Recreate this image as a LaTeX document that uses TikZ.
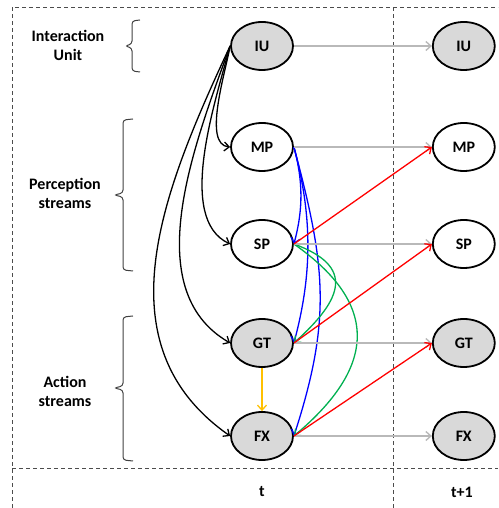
\documentclass[tikz,border=0pt]{standalone}
\usepackage{fontspec}
\setmainfont{Carlito}
\usetikzlibrary{shapes.geometric}
\usetikzlibrary{arrows.meta,positioning}
\definecolor{gold}{RGB}{255,192,0}
\definecolor{leaf}{RGB}{0,176,80}

\begin{document}
\begin{tikzpicture}[x=1pt,y=1pt,>={Straight Barb[length=5pt,width=9pt]},
    font=\fontsize{16}{19}\selectfont\bfseries,
    var/.style={draw, ellipse, line width=1.8pt, minimum width=62pt, minimum height=48pt, inner sep=0pt},
    obs/.style={var, fill=gray!30},
    frame/.style={gray!60!black, line width=0.9pt, dash pattern=on 4pt off 3pt},
    lag/.style={->, gray!55, line width=1.4pt},
    link/.style={->, line width=1.3pt},
    grp/.style={gray!50!black, line width=1pt, rounded corners=3pt}]
    \useasboundingbox (0,0) rectangle (498,508);
    % frame of the two slices
    \draw[frame] (12,0) -- (12,501) -- (498,501);
    \draw[frame] (12,40) -- (498,40);
    \draw[frame] (393,0) -- (393,501);

    % slice t
    \node[obs] at (262,462) (iu) {IU};
    \node[var] at (262,361) (mp) {MP};
    \node[var] at (262,264) (sp) {SP};
    \node[obs] at (262,165) (gt) {GT};
    \node[obs] at (262,72) (fx) {FX};
    % slice t+1
    \node[obs,right=138pt of iu] (iu1) {IU};
    \node[var,right=138pt of mp] (mp1) {MP};
    \node[var,right=138pt of sp] (sp1) {SP};
    \node[obs,right=138pt of gt] (gt1) {GT};
    \node[obs,right=138pt of fx] (fx1) {FX};

    \node[align=center] at (68,463) (iulab) {Interaction\\Unit};
    \node[align=center] at (65,315) (perlab) {Perception\\streams};
    \node[align=center] at (65,117) (actlab) {Action\\streams};
    \node at (262,16) (tlab) {t};
    \node at (462,16) (t1lab) {t+1};

    % brackets
    \draw[grp] (140,488) -- (132,487) -- (132,464) -- (125,462) -- (132,460) -- (132,437) -- (140,436);
    \draw[grp] (133,389) -- (123,388) -- (123,315) -- (114,313) -- (123,311) -- (123,238) -- (133,237);
    \draw[grp] (133,192) -- (123,191) -- (123,122) -- (114,120) -- (123,118) -- (123,48) -- (133,47);

    % IU to the streams
    \draw[link] (iu.west) to[out=-100, in=175, looseness=0.7] (mp.west);
    \draw[link] (iu.west) to[out=-105, in=155, looseness=0.77] (sp.west);
    \draw[link] (iu.west) to[out=-110, in=150, looseness=0.92] (gt.west);
    \draw[link] (iu.west) to[out=-115, in=145, looseness=1.05] (fx.west);

    % within slice
    \draw[link, blue] (mp.east) to[out=-75, in=75, looseness=0.95] (sp.east);
    \draw[link, blue] (mp.east) to[out=-75, in=75, looseness=0.94] (gt.east);
    \draw[link, blue] (mp.east) to[out=-75, in=72, looseness=1.09] (fx.east);
    \draw[link, leaf] (sp.east) to[out=-20, in=42, looseness=1.7] (gt.east);
    \draw[link, leaf] (sp.east) to[out=-35, in=40, looseness=1.42] (fx.east);
    \draw[link, gold] (gt.south) -- (fx.north);

    % to the next slice
    \draw[lag] (iu.east) -- (iu1.west);
    \draw[lag] (mp.east) -- (mp1.west);
    \draw[lag] (sp.east) -- (sp1.west);
    \draw[lag] (gt.east) -- (gt1.west);
    \draw[lag] (fx.east) -- (fx1.west);
    \draw[link, red] (sp.east) -- (mp1.west);
    \draw[link, red] (gt.east) -- (sp1.west);
    \draw[link, red] (fx.east) -- (gt1.west);
\end{tikzpicture}
\end{document}
